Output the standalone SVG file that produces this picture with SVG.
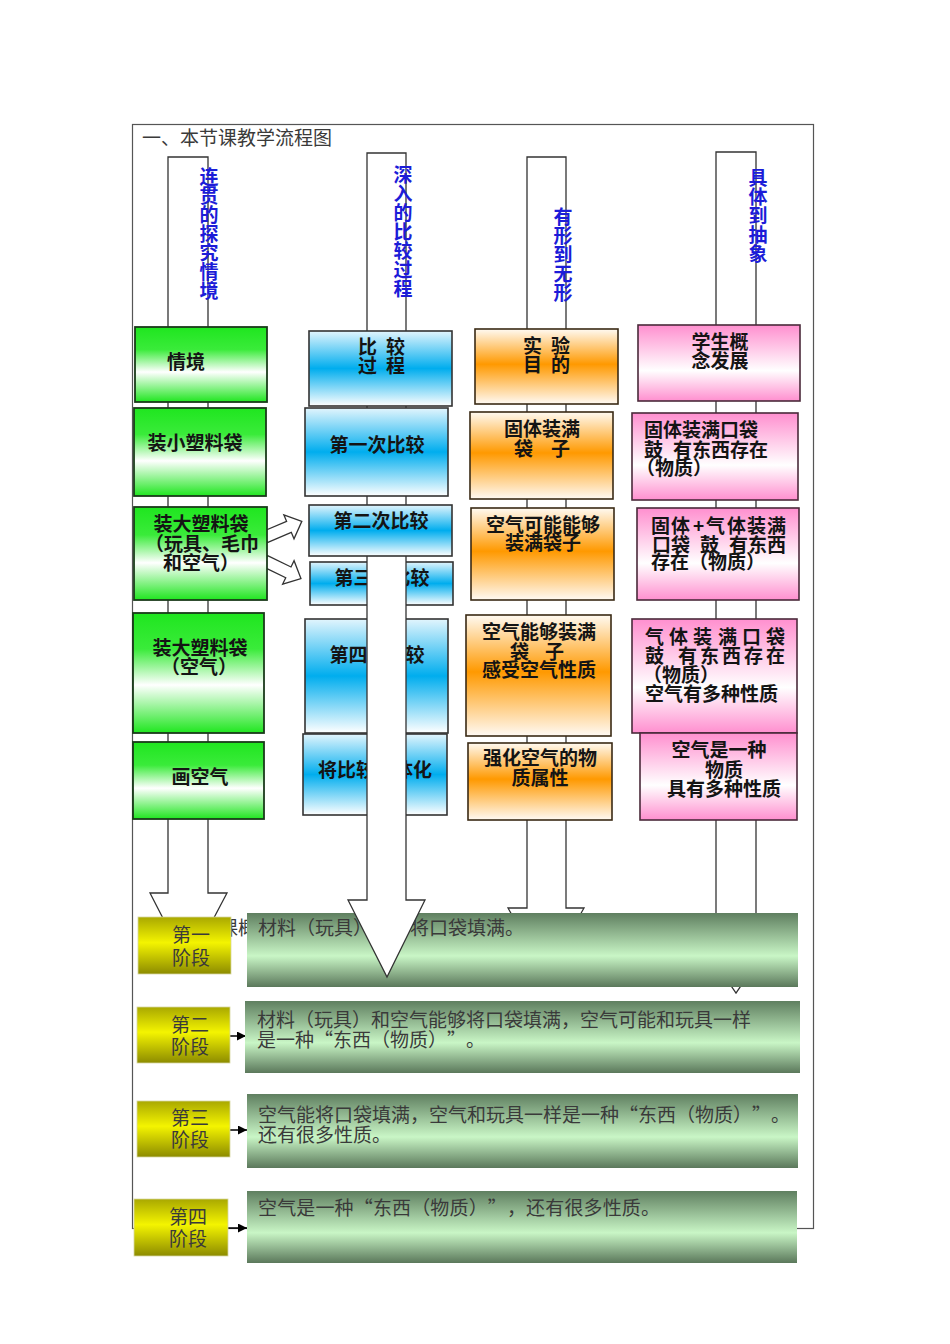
<svg xmlns="http://www.w3.org/2000/svg" width="950" height="1344" viewBox="0 0 950 1344">
<style>
text{text-spacing-trim:space-all}
.bt{font-family:"Noto Sans CJK SC","Noto Sans",sans-serif;font-weight:bold;font-size:19px;fill:#141414}
.st{font-family:"Noto Sans CJK SC","Noto Sans",sans-serif;font-size:19px;fill:#3a3a3a}
.vt{font-family:"Noto Sans CJK SC","Noto Sans",sans-serif;font-weight:bold;font-size:19px;fill:#1c1cd8}
.arr{fill:#fff;stroke:#333;stroke-width:1.3}
.g{fill:url(#gGreen);stroke:#1a3a1a;stroke-width:1.8}
.b{fill:url(#gBlue);stroke:#333;stroke-width:1.6}
.o{fill:url(#gOrange);stroke:#3a2a14;stroke-width:1.6}
.p{fill:url(#gPink);stroke:#4a2a3a;stroke-width:1.6}
.y{fill:url(#gYellow);stroke:#d8d8a0;stroke-width:0.8}
.bar{fill:url(#gBar)}
.mid{text-anchor:middle}
</style>
<defs>
<linearGradient id="gGreen" x1="0" y1="0" x2="0" y2="1"><stop offset="0" stop-color="#1fe61f"/><stop offset="0.3" stop-color="#3aeb3a"/><stop offset="0.6" stop-color="#ffffff"/><stop offset="1" stop-color="#1fe61f"/></linearGradient>
<linearGradient id="gBlue" x1="0" y1="0" x2="0" y2="1"><stop offset="0" stop-color="#e2f5fd"/><stop offset="0.5" stop-color="#00adee"/><stop offset="1" stop-color="#ffffff"/></linearGradient>
<linearGradient id="gOrange" x1="0" y1="0" x2="0" y2="1"><stop offset="0" stop-color="#fffaf2"/><stop offset="0.47" stop-color="#ff9900"/><stop offset="1" stop-color="#fffaf4"/></linearGradient>
<linearGradient id="gPink" x1="0" y1="0" x2="0" y2="1"><stop offset="0" stop-color="#ff8fcf"/><stop offset="0.6" stop-color="#ffffff"/><stop offset="1" stop-color="#ff8fcf"/></linearGradient>
<linearGradient id="gYellow" x1="0" y1="0" x2="0" y2="1"><stop offset="0" stop-color="#a9a800"/><stop offset="0.45" stop-color="#f4f400"/><stop offset="1" stop-color="#8c8b00"/></linearGradient>
<linearGradient id="gBar" x1="0" y1="0" x2="0" y2="1"><stop offset="0" stop-color="#5f7f60"/><stop offset="0.58" stop-color="#c9f6c6"/><stop offset="1" stop-color="#5b785b"/></linearGradient>
<clipPath id="clipBar1" clipPathUnits="userSpaceOnUse"><rect x="0" y="0" width="950" height="913"/><rect x="0" y="987" width="950" height="357"/></clipPath>
<marker id="ah" viewBox="0 0 10 10" refX="10" refY="5" markerWidth="9" markerHeight="9" markerUnits="userSpaceOnUse" orient="auto"><path d="M0,0 L10,5 L0,10 z" fill="#000"/></marker>
</defs>

<rect x="132.5" y="124.5" width="681" height="1104" fill="none" stroke="#555" stroke-width="1.2"/>
<text class="st" x="142" y="145">一、本节课教学流程图</text>

<!-- lower-layer nodes -->
<g id="n-cmp4"><rect class="b" x="305" y="619" width="143" height="114"/><text class="bt mid" x="377" y="662">第四次比较</text></g>
<g id="n-cmp5"><rect class="b" x="303" y="734" width="144" height="81"/><text class="bt mid" x="375" y="777">将比较具体化</text></g>
<g id="n-cmp3"><rect class="b" x="310" y="562" width="143" height="43"/><text class="bt mid" x="382" y="585">第三次比较</text></g>
<g id="n-bar1">
<text class="st" x="219" y="935">课概</text>
<rect class="bar" x="247" y="913" width="551" height="74"/>
<text class="st" x="258" y="935">材料（玩具）能够将口袋填满。</text>
</g>

<!-- connectors -->
<g id="connectors">
<polygon class="arr" points="168,157 208,157 208,893 227,893 188,967 150,893 168,893"/>
<polygon class="arr" points="367,153 406,153 406,900 425,900 387,977 348,900 367,900"/>
<polygon class="arr" clip-path="url(#clipBar1)" points="527,157 566,157 566,908 584,908 546,975 508,908 527,908"/>
<polygon class="arr" clip-path="url(#clipBar1)" points="716,152 756,152 756,937 774,937 736,993 698,937 716,937"/>
<polygon class="arr" transform="translate(265,537) rotate(-23)" points="0,-6 26,-6 26,-13 40,0 26,13 26,6 0,6"/>
<polygon class="arr" transform="translate(265,561) rotate(26)" points="0,-6 26,-6 26,-13 40,0 26,13 26,6 0,6"/>
<line x1="230" y1="1036" x2="246" y2="1036" stroke="#000" stroke-width="1.5" marker-end="url(#ah)"/>
<line x1="230" y1="1130" x2="247" y2="1130" stroke="#000" stroke-width="1.5" marker-end="url(#ah)"/>
<line x1="228" y1="1228" x2="247" y2="1228" stroke="#000" stroke-width="1.5" marker-end="url(#ah)"/>
<text class="vt mid" x="209" y="165"><tspan x="209" dy="19">连</tspan><tspan x="209" dy="19">贯</tspan><tspan x="209" dy="19">的</tspan><tspan x="209" dy="19">探</tspan><tspan x="209" dy="19">究</tspan><tspan x="209" dy="19">情</tspan><tspan x="209" dy="19">境</tspan></text>
<text class="vt mid" x="403" y="163"><tspan x="403" dy="19">深</tspan><tspan x="403" dy="19">入</tspan><tspan x="403" dy="19">的</tspan><tspan x="403" dy="19">比</tspan><tspan x="403" dy="19">较</tspan><tspan x="403" dy="19">过</tspan><tspan x="403" dy="19">程</tspan></text>
<text class="vt mid" x="563" y="205"><tspan x="563" dy="19">有</tspan><tspan x="563" dy="19">形</tspan><tspan x="563" dy="19">到</tspan><tspan x="563" dy="19">无</tspan><tspan x="563" dy="19">形</tspan></text>
<text class="vt mid" x="758" y="166"><tspan x="758" dy="19">具</tspan><tspan x="758" dy="19">体</tspan><tspan x="758" dy="19">到</tspan><tspan x="758" dy="19">抽</tspan><tspan x="758" dy="19">象</tspan></text>
</g>

<!-- column 1 -->
<g id="n-qingjing"><rect class="g" x="135" y="327" width="132" height="75"/><text class="bt mid" x="186" y="369">情境</text></g>
<g id="n-small-bag"><rect class="g" x="134" y="408" width="132" height="88"/><text class="bt mid" x="195" y="450">装小塑料袋</text></g>
<g id="n-big-bag-toys"><rect class="g" x="134" y="507" width="133" height="93"/><text class="bt mid"><tspan x="201" y="531">装大塑料袋</tspan><tspan x="202" y="551">（玩具、毛巾</tspan><tspan x="201" y="570">和空气）</tspan></text></g>
<g id="n-big-bag-air"><rect class="g" x="133" y="613" width="131" height="120"/><text class="bt mid"><tspan x="200" y="655">装大塑料袋</tspan><tspan x="199" y="674">（空气）</tspan></text></g>
<g id="n-draw-air"><rect class="g" x="133" y="742" width="131" height="77"/><text class="bt mid" x="200" y="784">画空气</text></g>

<!-- column 2 upper -->
<g id="n-cmp-head"><rect class="b" x="309" y="331" width="143" height="75"/><text class="bt"><tspan x="358 386" y="354">比较</tspan><tspan x="358 386" y="373">过程</tspan></text></g>
<g id="n-cmp1"><rect class="b" x="305" y="408" width="143" height="88"/><text class="bt mid" x="377" y="452">第一次比较</text></g>
<g id="n-cmp2"><rect class="b" x="309" y="505" width="143" height="51"/><text class="bt mid" x="381" y="528">第二次比较</text></g>

<!-- column 3 -->
<g id="n-exp-head"><rect class="o" x="475" y="329" width="143" height="75"/><text class="bt"><tspan x="523 551" y="353">实验</tspan><tspan x="523 551" y="372">目的</tspan></text></g>
<g id="n-exp1"><rect class="o" x="470" y="412" width="143" height="87"/><text class="bt"><tspan x="504" y="436">固体装满</tspan><tspan x="514 551" y="456">袋子</tspan></text></g>
<g id="n-exp2"><rect class="o" x="471" y="508" width="143" height="92"/><text class="bt mid"><tspan x="543" y="532">空气可能能够</tspan><tspan x="543" y="550">装满袋子</tspan></text></g>
<g id="n-exp3"><rect class="o" x="466" y="615" width="145" height="121"/><text class="bt"><tspan x="482" y="639">空气能够装满</tspan><tspan x="510 545" y="659">袋子</tspan><tspan x="482" y="677">感受空气性质</tspan></text></g>
<g id="n-exp4"><rect class="o" x="468" y="743" width="144" height="77"/><text class="bt mid"><tspan x="540" y="765">强化空气的物</tspan><tspan x="540" y="785">质属性</tspan></text></g>

<!-- column 4 -->
<g id="n-con-head"><rect class="p" x="638" y="325" width="162" height="76"/><text class="bt mid"><tspan x="720" y="349">学生概</tspan><tspan x="720" y="368">念发展</tspan></text></g>
<g id="n-con1"><rect class="p" x="632" y="413" width="166" height="87"/><text class="bt"><tspan x="644" y="437">固体装满口袋</tspan><tspan x="644 673 692 711 730 749" y="457">鼓有东西存在</tspan><tspan x="636" y="475">（物质）</tspan></text></g>
<g id="n-con2"><rect class="p" x="637" y="508" width="162" height="92"/><text class="bt"><tspan x="651 671 693 706 727 747 767" y="533">固体+气体装满</tspan><tspan x="652 671 700 729 748 767" y="552">口袋鼓有东西</tspan><tspan x="651" y="569">存在（物质）</tspan></text></g>
<g id="n-con3"><rect class="p" x="632" y="619" width="165" height="114"/><text class="bt"><tspan x="645 669 693 718 742 766" y="644">气体装满口袋</tspan><tspan x="645 678 700 722 744 766" y="663">鼓有东西存在</tspan><tspan x="643" y="682">（物质）</tspan><tspan x="645" y="701">空气有多种性质</tspan></text></g>
<g id="n-con4"><rect class="p" x="640" y="733" width="157" height="87"/><text class="bt mid"><tspan x="719" y="757">空气是一种</tspan><tspan x="724" y="777">物质</tspan><tspan x="724" y="796">具有多种性质</tspan></text></g>

<!-- stages -->
<g id="n-stage1"><rect class="y" x="138" y="917" width="93" height="57"/><text class="st mid"><tspan x="191" y="942">第一</tspan><tspan x="191" y="965">阶段</tspan></text></g>
<g id="n-stage2"><rect class="y" x="137" y="1007" width="93" height="56"/><text class="st mid"><tspan x="190" y="1032">第二</tspan><tspan x="190" y="1054">阶段</tspan></text></g>
<g id="n-bar2"><rect class="bar" x="245" y="1001" width="555" height="72"/><text class="st"><tspan x="257" y="1027">材料（玩具）和空气能够将口袋填满，空气可能和玩具一样</tspan><tspan x="257" y="1047">是一种“东西（物质）”。</tspan></text></g>
<g id="n-stage3"><rect class="y" x="137" y="1101" width="93" height="56"/><text class="st mid"><tspan x="190" y="1125">第三</tspan><tspan x="190" y="1147">阶段</tspan></text></g>
<g id="n-bar3"><rect class="bar" x="247" y="1094" width="551" height="74"/><text class="st"><tspan x="258" y="1122">空气能将口袋填满，空气和玩具一样是一种“东西（物质）”。</tspan><tspan x="258" y="1142">还有很多性质。</tspan></text></g>
<g id="n-stage4"><rect class="y" x="134" y="1199" width="94" height="57"/><text class="st mid"><tspan x="188" y="1224">第四</tspan><tspan x="188" y="1246">阶段</tspan></text></g>
<g id="n-bar4"><rect class="bar" x="247" y="1191" width="550" height="72"/><text class="st" x="258" y="1215" textLength="402" lengthAdjust="spacing">空气是一种“东西（物质）”，还有很多性质。</text></g>
</svg>
